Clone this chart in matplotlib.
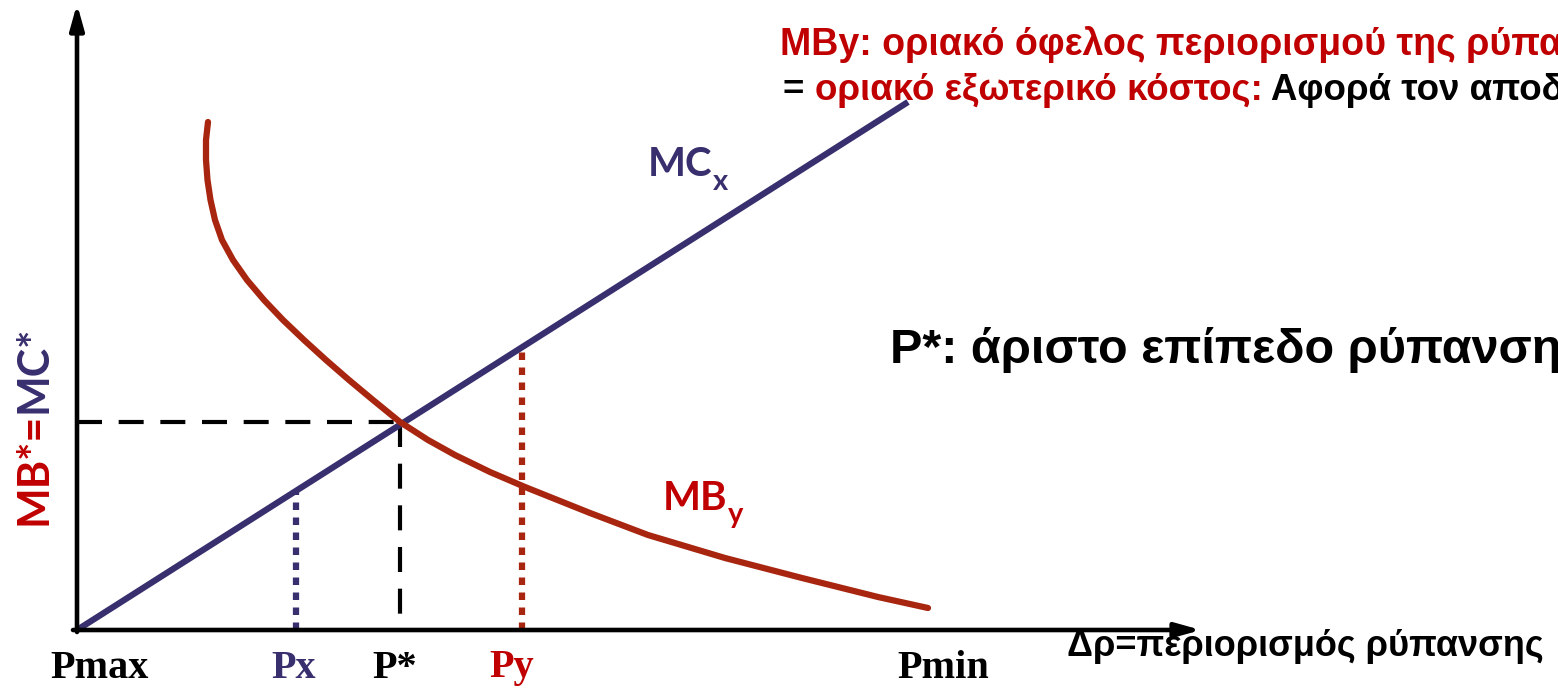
import matplotlib.pyplot as plt

# axis units ~ pixels from the origin of the diagram
mc_q = [0, 831]
mc_v = [0, 528]

mb_q = [131, 129, 129, 130.5, 133.5, 138, 145, 156, 170, 187, 206, 227, 249, 272, 296,
        323, 351, 378, 413, 448, 513, 571, 648, 725, 801, 851]
mb_v = [508, 490, 470, 450, 430, 410, 390, 370, 350, 330, 310, 290, 270, 250, 230,
        208, 190, 175, 158, 143, 117, 95, 72, 52, 33, 22]

p_star = 323
mb_star = 208
p_x = 219
p_y = 445

label_pos = [23, 217, 318, 435, 866]
label_txt = ['Pmax', 'Px', 'P*', 'Py', 'Pmin']

NAVY = '#372f6e'
CURVE = '#a8260f'
RED = '#c00000'
label_col = ['black', NAVY, 'black', RED, 'black']

fig = plt.figure(figsize=(15.58, 6.88), dpi=100)
ax = fig.add_axes([0, 0, 1, 1])
ax.set_xlim(-77, 1481)
ax.set_ylim(-58, 630)
ax.axis('off')

# axes arrows
arrow = dict(arrowstyle='-|>,head_length=1.5,head_width=0.42', lw=3.3, color='black',
             shrinkA=0, shrinkB=0)
ax.annotate('', xy=(0, 626), xytext=(0, -2), arrowprops=arrow)
ax.annotate('', xy=(1124, 0), xytext=(-4, 0), arrowprops=arrow)

# dashed optimum guides
ax.plot([0, p_star], [mb_star, mb_star], color='black', lw=3, dashes=(6, 4))
ax.plot([p_star, p_star], [mb_star, 0], color='black', lw=3, dashes=(6, 4))

# dotted Px / Py
slope = mc_v[1] / mc_q[1]
ax.plot([p_x, p_x], [0, slope * p_x], color=NAVY, lw=4.5, dashes=(1.2, 1.2))
ax.plot([p_y, p_y], [0, slope * p_y], color=CURVE, lw=4.5, dashes=(1.2, 1.2))

ax.plot(mc_q, mc_v, color=NAVY, lw=4.5, solid_capstyle='butt')
ax.plot(mb_q, mb_v, color=CURVE, lw=4.5, solid_capstyle='round', solid_joinstyle='round')

for x, s, c in zip(label_pos, label_txt, label_col):
    ax.text(x, -38, s, ha='center', va='center', fontsize=29, fontweight='bold',
            family='Liberation Serif', color=c)

ax.text(990, -17, 'Δρ=περιορισμός ρύπανσης', ha='left', va='center', fontsize=26,
        fontweight='bold', family='Liberation Sans', color='black')

# curve labels with subscripts
t = ax.text(571, 465, 'MC', ha='left', va='center', fontsize=29, fontweight='bold',
            family='Lato', color=NAVY)
ax.annotate('x', xy=(1, 0.05), xycoords=t, ha='left', va='center', fontsize=21,
            fontweight='bold', family='Lato', color=NAVY)
t = ax.text(586, 132, 'MB', ha='left', va='center', fontsize=29, fontweight='bold',
            family='Lato', color=RED)
ax.annotate('y', xy=(1, 0.05), xycoords=t, ha='left', va='center', fontsize=21,
            fontweight='bold', family='Lato', color=RED)

# rotated y label
t = ax.text(-44, 105, 'MB*=', rotation=90, ha='center', va='bottom', fontsize=31,
            fontweight='bold', family='Lato', color=RED)
ax.annotate('MC*', xy=(0, 1), xycoords=t, rotation=90, ha='left', va='bottom', fontsize=31,
            fontweight='bold', family='Lato', color=NAVY)

# top annotation (runs off the right edge, as in the original slide)
ax.text(703, 575, 'MBy: οριακό όφελος περιορισμού της ρύπανσης', ha='left', va='baseline',
        fontsize=27, fontweight='bold', family='Liberation Sans', color=RED)
t = ax.text(706, 530, '= ', ha='left', va='baseline', fontsize=26.5, fontweight='bold',
            family='Liberation Sans', color='black')
t = ax.annotate('οριακό εξωτερικό κόστος:', xy=(1, 0), xycoords=t, ha='left', va='bottom',
                fontsize=26.5, fontweight='bold', family='Liberation Sans', color=RED)
ax.annotate(' Αφορά τον αποδέκτη', xy=(1, 0), xycoords=t, ha='left', va='bottom',
            fontsize=26.5, fontweight='bold', family='Liberation Sans', color='black')

ax.text(813, 280, 'P*: άριστο επίπεδο ρύπανσης', ha='left', va='center', fontsize=35,
        fontweight='bold', family='Liberation Sans', color='black')

fig.savefig('out.png', dpi=100)
